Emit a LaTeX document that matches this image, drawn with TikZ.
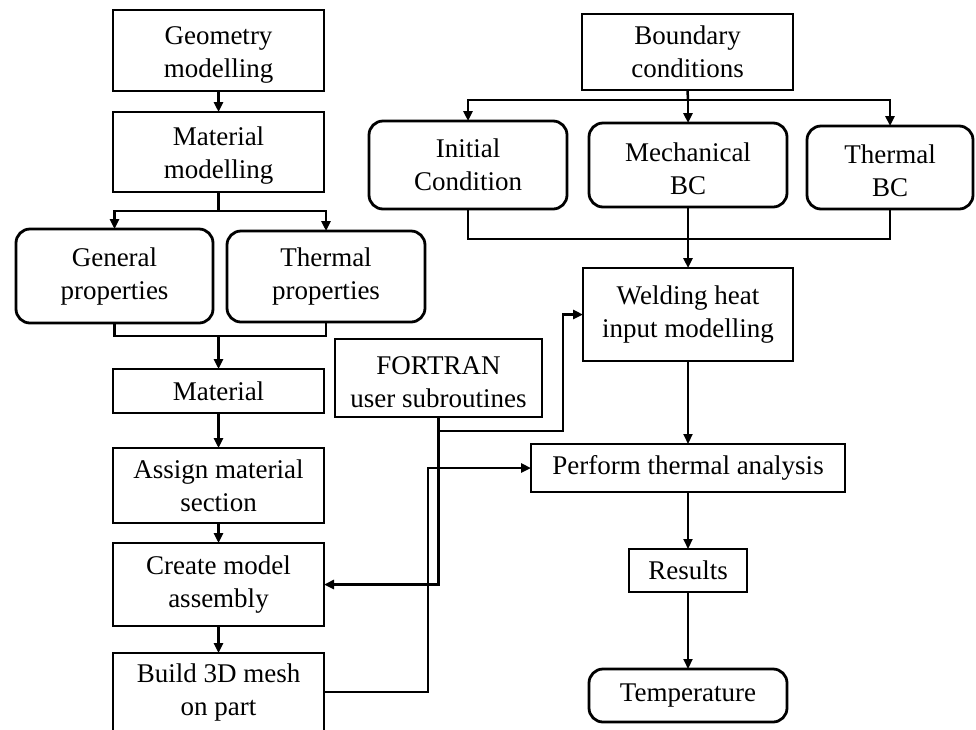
\documentclass[tikz,border=0pt]{standalone}
\usepackage{fontspec}
\setmainfont{Liberation Serif}
\usetikzlibrary{arrows.meta,calc}
\newcommand{\lowstrut}{\rule{0pt}{26pt}}
\tikzset{
  box/.style={draw, line width=2.8pt, rectangle, inner sep=0pt, outer sep=0pt, align=center,
    font=\fontsize{27}{33}\selectfont},
  rbox/.style={box, rounded corners=14pt},
  conn/.style={line width=2.5pt},
  thin conn/.style={line width=2pt},
  arr/.style={-{Triangle[length=10pt,width=9pt]}}
}
\begin{document}
\begin{tikzpicture}[x=1pt,y=-1pt]
\useasboundingbox (0,0) rectangle (976,729);
% left column
\node[box, minimum width=211, minimum height=81] (geo) at (218.5,50.5) {\lowstrut Geometry\\modelling};
\node[box, minimum width=211, minimum height=80] (matmod) at (218.5,152) {\lowstrut Material\\modelling};
\node[rbox, minimum width=197, minimum height=94] (gen) at (114.5,276) {General\\properties};
\node[rbox, minimum width=198, minimum height=91] (thp) at (326,276.5) {Thermal\\properties};
\node[box, minimum width=211, minimum height=44] (mat) at (218.5,391) {Material};
\node[box, minimum width=211, minimum height=75] (assign) at (218.5,485.5) {Assign material\\section};
\node[box, minimum width=211, minimum height=83] (create) at (218.5,584.5) {Create model\\assembly};
\node[box, minimum width=211, minimum height=78] (build) at (218.5,692) {Build 3D mesh\\on part};
\node[box, minimum width=207, minimum height=78] (fortran) at (438.5,378) {\lowstrut FORTRAN\\user subroutines};
% right column
\node[box, minimum width=211, minimum height=76] (bc) at (687.5,52) {Boundary\\conditions};
\node[rbox, minimum width=198, minimum height=88] (init) at (468,165) {Initial\\Condition};
\node[rbox, minimum width=198, minimum height=84] (mech) at (688,165) {\lowstrut Mechanical\\BC};
\node[rbox, minimum width=166, minimum height=83] (thbc) at (890,167.5) {\lowstrut Thermal\\BC};
\node[box, minimum width=210, minimum height=93] (weld) at (688,314.5) {Welding heat\\input modelling};
\node[box, minimum width=314, minimum height=48] (perform) at (688,468) {Perform thermal analysis};
\node[box, minimum width=118, minimum height=43] (results) at (688,570.5) {Results};
\node[rbox, minimum width=198, minimum height=53] (temp) at (688,695.5) {Temperature};
% coordinates
\coordinate (s1) at (218.5,211);
\coordinate (j1) at (218.5,336);
\coordinate (s2) at (688,100);
\coordinate (j2) at (688,239);
\coordinate (f2) at (438.5,431);
\coordinate (f3) at (563,431);
\coordinate (b1) at (428,600);
% left connectors
\draw[conn,arr] (geo) -- (matmod);
\draw[conn] (matmod.south) -- (s1);
\draw[conn,arr] (s1) -| (gen.north);
\draw[conn,arr] (s1) -| (thp.north);
\draw[conn] (gen.south) |- (j1) -| (thp.south);
\draw[conn,arr] (j1) -- (mat.north);
\draw[conn,arr] (mat) -- (assign);
\draw[conn,arr] (assign) -- (create);
\draw[conn,arr] (create) -- (build);
\draw[conn,arr] (fortran.south) |- (create.east);
\draw[conn,arr] (f2) -- (f3) |- (weld.west);
\draw[conn,arr] (build.east) -| (b1) |- (perform.west);
% right connectors
\draw[conn] (bc.south) -- (s2);
\draw[conn,arr] (s2) -| (init.north);
\draw[conn,arr] (s2) -| (thbc.north);
\draw[conn,arr] (s2) -- (mech.north);
\draw[conn] (init.south) |- (j2) -| (thbc.south);
\draw[conn,arr] (mech.south) -- (weld.north);
\draw[thin conn,arr] (weld) -- (perform);
\draw[thin conn,arr] (perform) -- (results);
\draw[thin conn,arr] (results) -- (temp);
\end{tikzpicture}
\end{document}
